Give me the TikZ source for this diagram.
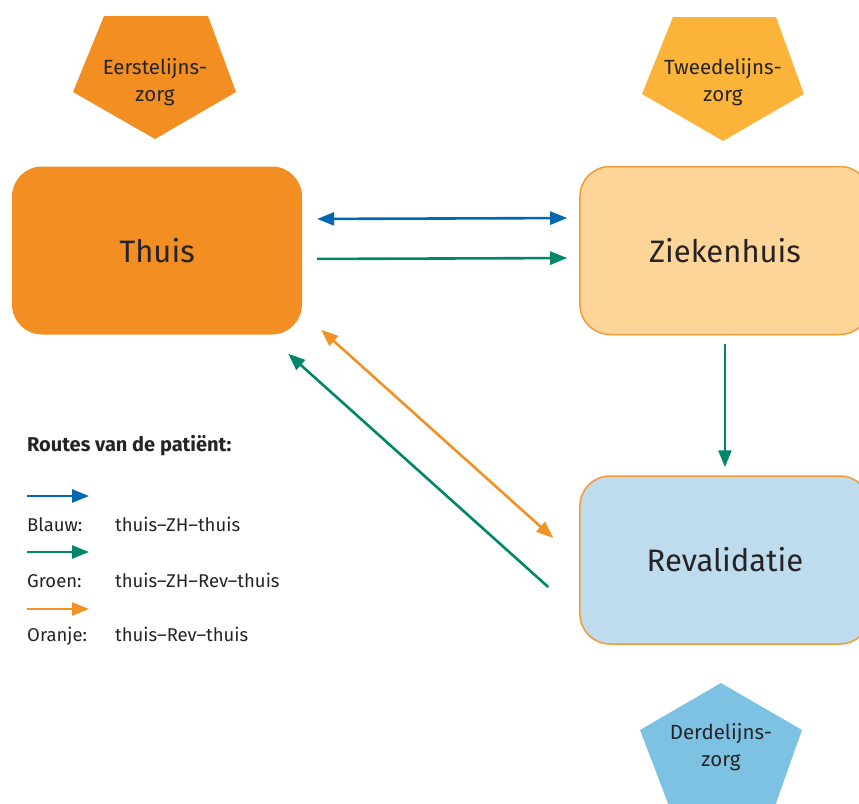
\documentclass[tikz,border=0pt]{standalone}
\usepackage{fontspec}
\setmainfont{Fira Sans}
\usetikzlibrary{positioning,arrows.meta}

\definecolor{thuisoranje}{HTML}{F28E22}
\definecolor{zhgeel}{HTML}{FDD598}
\definecolor{revblauw}{HTML}{BFDCEE}
\definecolor{rand}{HTML}{F39A36}
\definecolor{tweedegeel}{HTML}{FBB33A}
\definecolor{derdeblauw}{HTML}{7EC2E3}
\definecolor{blauw}{HTML}{0067B1}
\definecolor{groen}{HTML}{00876B}
\definecolor{oranje}{HTML}{F39224}
\definecolor{tekst}{HTML}{262324}

\begin{document}
\begin{tikzpicture}[x=1pt,y=-1pt,
    >={Triangle[length=17pt,width=13pt]},
    plek/.style={rounded corners=30pt,minimum width=290pt,minimum height=168pt,
      text=tekst,font=\fontsize{31}{38}\selectfont},
    zorg/.style={text=tekst,align=center,font=\fontsize{20.5}{27}\selectfont},
    route/.style={line width=2.6pt},
    legenda/.style={anchor=base west,inner sep=0pt,text=tekst,font=\fontsize{18.5}{22}\selectfont}]
  \useasboundingbox (0,0) rectangle (859,803);

  % de drie plekken
  \node[plek,fill=thuisoranje] (thuis) at (157,250.5) {Thuis};
  \node[plek,fill=zhgeel,draw=rand,line width=1.5pt] (zh) [right=277pt of thuis] {Ziekenhuis};
  \node[plek,fill=revblauw,draw=rand,line width=1.5pt] (rev) [below=140pt of zh] {Revalidatie};

  % de lijnen van zorg
  \fill[thuisoranje] (104,16) -- (208,16) -- (236,92) -- (155,139) -- (73,92) -- cycle;
  \fill[tweedegeel] (673,17) -- (776,17) -- (804,94) -- (723,141) -- (642,94) -- cycle;
  \fill[derdeblauw] (721,683) -- (802,730) -- (775,806) -- (669,806) -- (640,730) -- cycle;
  \node[zorg] (eerste) at (155,82) {Eerstelijns-\\zorg};
  \node[zorg] (tweede) at (723,82) {Tweedelijns-\\zorg};
  \node[zorg] (derde) at (721,747) {Derdelijns-\\zorg};

  % routes
  \draw[route,blauw,<->,shorten <=15pt,shorten >=12pt]
    ([yshift=31.5pt]thuis.east) -- ([yshift=32.5pt]zh.west);
  \draw[route,groen,->,shorten <=15pt,shorten >=12pt]
    ([yshift=-8.5pt]thuis.east) -- ([yshift=-7.5pt]zh.west);
  \draw[route,groen,->,shorten <=9pt,shorten >=8pt] (zh.south) -- (rev.north);
  \draw[route,oranje,<->]
    ([shift={(19,-5)}]thuis.south east) -- ([shift={(-26,-22)}]rev.west);
  \draw[route,groen,->]
    ([shift={(-31,27)}]rev.west) -- ([shift={(-14,19)}]thuis.south east);

  % legenda
  \node[legenda,font=\fontsize{20}{24}\selectfont\bfseries] (titel) at (27,451) {Routes van de patiënt:};
  \node[legenda] (blauwtxt) at (27,531) {Blauw:};
  \node[legenda] (blauwrt) at (115,531) {thuis--ZH--thuis};
  \node[legenda] (groentxt) at (27,587) {Groen:};
  \node[legenda] (groenrt) at (115,587) {thuis--ZH--Rev--thuis};
  \node[legenda] (oranjetxt) at (27,641) {Oranje:};
  \node[legenda] (oranjert) at (115,641) {thuis--Rev--thuis};
  \coordinate (b1) at (27,496);
  \coordinate (b2) at (89,496);
  \coordinate (g1) at (27,552);
  \coordinate (g2) at (89,552);
  \coordinate (o1) at (27,609);
  \coordinate (o2) at (89,609);
  \draw[route,blauw,->] (b1) -- (b2);
  \draw[route,groen,->] (g1) -- (g2);
  \draw[route,oranje,->] (o1) -- (o2);
\end{tikzpicture}
\end{document}
